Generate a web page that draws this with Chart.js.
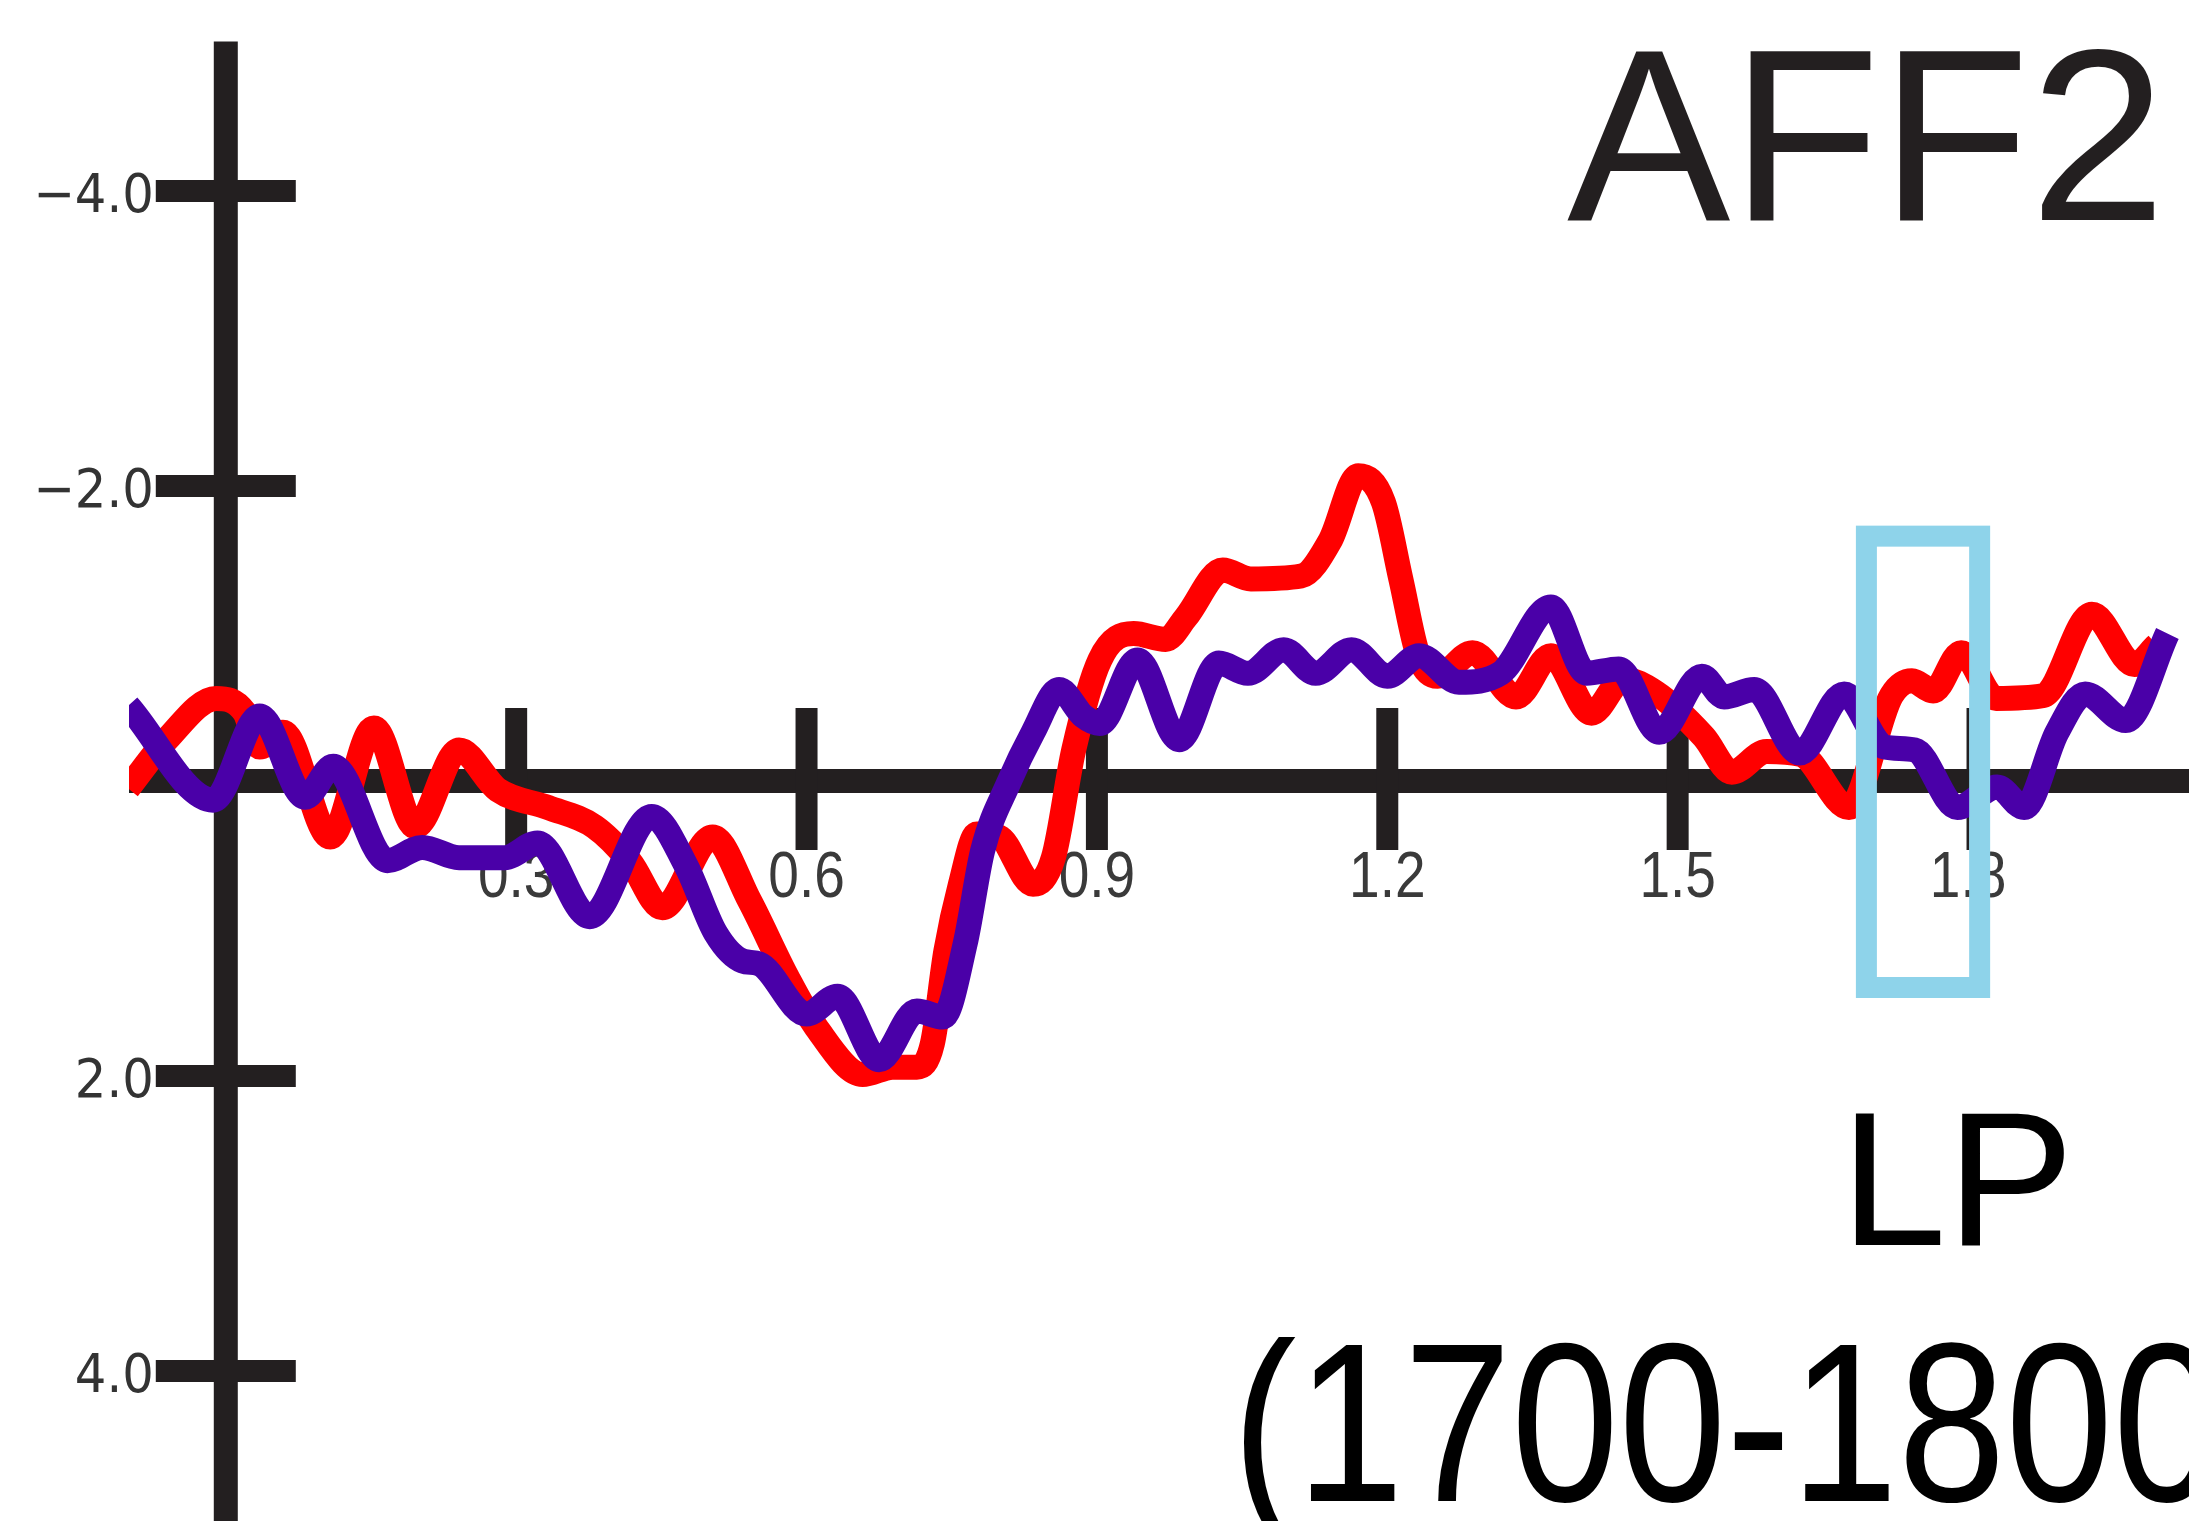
<!DOCTYPE html>
<html>

<head>
    <title>AFF2 LP</title>
    <script src="https://cdn.jsdelivr.net/npm/chart.js"></script>
    <style>
        body {
            margin: 0;
            background: #ffffff;
        }

        #erpChart {
            display: block;
        }
    </style>
</head>

<body>
    <canvas id="erpChart" width="2189" height="1521"></canvas>

    <script>
        // time in seconds, amplitude (negative is plotted up)
        var redTimes = [-0.101, -0.061, -0.010, 0.019, 0.035, 0.059, 0.108, 0.153, 0.196, 0.241, 0.281, 0.333, 0.381, 0.418,
            0.451, 0.503, 0.541, 0.580, 0.610, 0.658, 0.689, 0.714, 0.730, 0.744, 0.759, 0.776, 0.799, 0.834, 0.855, 0.876,
            0.903, 0.938, 0.971, 0.992, 1.030, 1.059, 1.111, 1.141, 1.170, 1.196, 1.214, 1.232, 1.252, 1.288, 1.333, 1.369,
            1.411, 1.444, 1.477, 1.527, 1.556, 1.592, 1.627, 1.677, 1.721, 1.742, 1.764, 1.793, 1.829, 1.878, 1.928, 1.972, 1.995];
        var redValues = [0.05, -0.28, -0.56, -0.47, -0.23, -0.33, 0.38, -0.36, 0.31, -0.21, 0.06, 0.18, 0.31, 0.55,
            0.86, 0.38, 0.81, 1.33, 1.67, 1.99, 1.94, 1.94, 1.78, 1.15, 0.70, 0.36, 0.38, 0.70, 0.52, -0.21,
            -0.82, -1.00, -0.96, -1.11, -1.43, -1.37, -1.39, -1.63, -2.07, -1.89, -1.37, -0.85, -0.71, -0.87, -0.57, -0.85,
            -0.46, -0.69, -0.60, -0.30, -0.06, -0.20, -0.18, 0.18, -0.58, -0.68, -0.61, -0.87, -0.56, -0.58, -1.13, -0.79, -0.92];

        var purpleTimes = [-0.101, -0.013, 0.035, 0.082, 0.111, 0.167, 0.203, 0.241, 0.288, 0.322, 0.376, 0.440, 0.476,
            0.506, 0.534, 0.551, 0.600, 0.632, 0.675, 0.714, 0.741, 0.764, 0.782, 0.809, 0.834, 0.861, 0.886, 0.903, 0.942,
            0.985, 1.026, 1.056, 1.093, 1.126, 1.163, 1.200, 1.233, 1.274, 1.317, 1.369, 1.406, 1.439, 1.481, 1.525, 1.548,
            1.579, 1.626, 1.672, 1.714, 1.745, 1.789, 1.830, 1.858, 1.892, 1.921, 1.963, 2.006];
        var purpleValues = [-0.51, 0.13, -0.44, 0.11, -0.10, 0.54, 0.45, 0.52, 0.52, 0.42, 0.92, 0.24, 0.58,
            1.03, 1.22, 1.24, 1.58, 1.46, 1.89, 1.56, 1.60, 1.10, 0.47, 0.01, -0.33, -0.62, -0.44, -0.39, -0.82,
            -0.28, -0.80, -0.73, -0.89, -0.73, -0.89, -0.71, -0.85, -0.67, -0.73, -1.18, -0.73, -0.76, -0.33, -0.71, -0.57,
            -0.62, -0.19, -0.59, -0.23, -0.21, 0.18, 0.04, 0.18, -0.33, -0.59, -0.41, -1.00];

        var xTicks = [0.3, 0.6, 0.9, 1.2, 1.5, 1.8];
        var xTickLabels = ['0.3', '0.6', '0.9', '1.2', '1.5', '1.8'];
        var yTicks = [-4, -2, 2, 4];
        var yTickLabels = ['\u22124.0', '\u22122.0', '2.0', '4.0'];

        // highlighted LP window (time from/to, amplitude from/to)
        var windowTimes = [1.695, 1.812];
        var windowValues = [-1.66, 1.40];

        var electrode = 'AFF2';
        var componentName = 'LP';
        var componentRange = '(1700-1800)';

        function toPoints(times, values) {
            return times.map(function (t, i) {
                return { x: t, y: values[i] };
            });
        }

        var AXIS_COLOR = '#231f20';

        var erpPlugin = {
            id: 'erpDecor',
            beforeDatasetsDraw: function (chart) {
                var ctx = chart.ctx;
                var xs = chart.scales.x;
                var ys = chart.scales.y;
                var x0 = xs.getPixelForValue(0);
                var y0 = ys.getPixelForValue(0);

                ctx.save();
                ctx.strokeStyle = AXIS_COLOR;
                ctx.lineCap = 'butt';

                // axes
                ctx.lineWidth = 24;
                ctx.beginPath();
                ctx.moveTo(x0, ys.getPixelForValue(-5) - 2);
                ctx.lineTo(x0, chart.height);
                ctx.stroke();
                ctx.beginPath();
                ctx.moveTo(chart.chartArea.left, y0);
                ctx.lineTo(chart.width, y0);
                ctx.stroke();

                // y ticks + labels
                yTicks.forEach(function (v, i) {
                    var py = ys.getPixelForValue(v);
                    ctx.lineWidth = 22;
                    ctx.beginPath();
                    ctx.moveTo(x0 - 70, py);
                    ctx.lineTo(x0 + 70, py);
                    ctx.stroke();

                    ctx.save();
                    ctx.translate(x0 - 72, py + 21);
                    ctx.scale(0.92, 1);
                    ctx.fillStyle = '#333333';
                    ctx.font = '54px "DejaVu Sans", Verdana, sans-serif';
                    ctx.textAlign = 'right';
                    ctx.textBaseline = 'alphabetic';
                    ctx.fillText(yTickLabels[i], 0, 0);
                    ctx.restore();
                });

                // x ticks + labels (the last tick is drawn thin in the original)
                xTicks.forEach(function (t, i) {
                    var px = xs.getPixelForValue(t);
                    ctx.lineWidth = (i === xTicks.length - 1) ? 3 : 22;
                    ctx.beginPath();
                    ctx.moveTo(px, y0 - 73);
                    ctx.lineTo(px, y0 + 69);
                    ctx.stroke();

                    ctx.save();
                    ctx.translate(px, y0 + 116);
                    ctx.scale(0.86, 1);
                    ctx.fillStyle = '#3a3a3a';
                    ctx.font = '64px "Liberation Sans", Arial, sans-serif';
                    ctx.textAlign = 'center';
                    ctx.textBaseline = 'alphabetic';
                    ctx.fillText(xTickLabels[i], 0, 0);
                    ctx.restore();
                });
                ctx.restore();
            },
            afterDatasetsDraw: function (chart) {
                var ctx = chart.ctx;
                var xs = chart.scales.x;
                var ys = chart.scales.y;
                var left = xs.getPixelForValue(windowTimes[0]);
                var right = xs.getPixelForValue(windowTimes[1]);
                var top = ys.getPixelForValue(windowValues[0]);
                var bottom = ys.getPixelForValue(windowValues[1]);

                ctx.save();
                ctx.strokeStyle = '#8ed3ea';
                ctx.lineWidth = 21;
                ctx.lineJoin = 'miter';
                ctx.strokeRect(left, top, right - left, bottom - top);
                ctx.restore();
            },
            afterDraw: function (chart) {
                var ctx = chart.ctx;
                ctx.save();
                ctx.textBaseline = 'alphabetic';

                ctx.fillStyle = AXIS_COLOR;
                ctx.font = '245px "Liberation Sans", Arial, sans-serif';
                ctx.textAlign = 'right';
                ctx.fillText(electrode, 2166, 220);

                ctx.fillStyle = '#000000';
                ctx.font = '191px "Liberation Sans", Arial, sans-serif';
                ctx.textAlign = 'center';
                ctx.fillText(componentName, 1957, 1245);

                // range label is set in a taller, condensed face
                ctx.translate(1232, 1501);
                ctx.scale(0.855, 1);
                ctx.font = '226px "Liberation Sans", Arial, sans-serif';
                ctx.textAlign = 'left';
                ctx.fillText(componentRange, 0, 0);
                ctx.restore();
            }
        };

        var chart = new Chart(document.getElementById('erpChart'), {
            type: 'line',
            data: {
                datasets: [{
                    label: 'purple',
                    data: toPoints(purpleTimes, purpleValues),
                    borderColor: '#4a00a8',
                    borderWidth: 25,
                    order: 0
                }, {
                    label: 'red',
                    data: toPoints(redTimes, redValues),
                    borderColor: '#ff0000',
                    borderWidth: 25,
                    order: 1
                }]
            },
            options: {
                responsive: false,
                animation: false,
                devicePixelRatio: 1,
                events: [],
                layout: {
                    padding: { left: 129, right: 0, top: 43.5, bottom: 2.5 }
                },
                elements: {
                    point: { radius: 0 },
                    line: {
                        fill: false,
                        cubicInterpolationMode: 'monotone',
                        borderJoinStyle: 'round',
                        borderCapStyle: 'butt'
                    }
                },
                scales: {
                    x: { type: 'linear', min: -0.1, max: 2.0283, display: false },
                    y: { type: 'linear', min: -5, max: 5, reverse: true, display: false }
                },
                plugins: {
                    legend: { display: false },
                    tooltip: { enabled: false }
                }
            },
            plugins: [erpPlugin]
        });
    </script>
</body>

</html>
